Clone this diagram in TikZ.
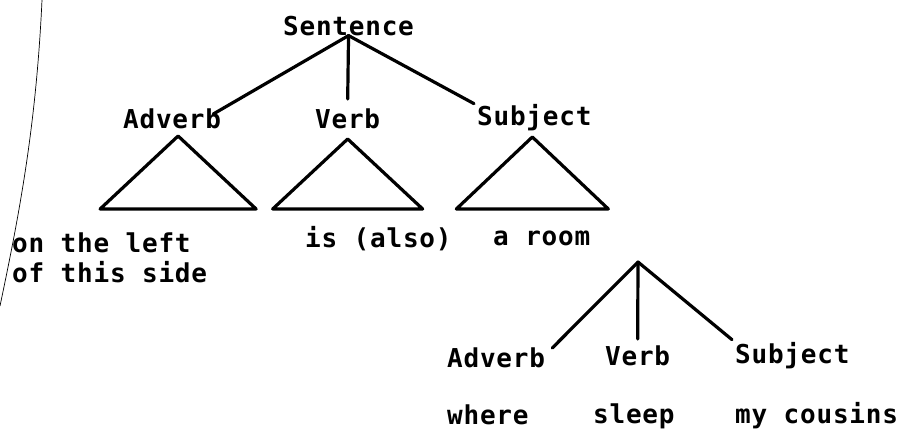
\documentclass[tikz,border=0pt]{standalone}
\usepackage{fontspec}
\setmonofont{DejaVu Sans Mono}[LetterSpace=3]
\usetikzlibrary{positioning}

\begin{document}
\begin{tikzpicture}[x=1pt,y=-1pt,
        word/.style={inner sep=0pt,anchor=base west,
                font=\ttfamily\bfseries\fontsize{26}{30}\selectfont},
        branch/.style={line width=3.2pt,line cap=round},
        subtree/.style={line width=3.2pt,line join=round}]
        \useasboundingbox (0,0) rectangle (897,432);

        \draw[line width=0.7pt] (42,0) .. controls (36,130) and (18,220) .. (0,306);

        \node[word] (sentence) at (283,35) {Sentence};
        \node[word] (adverb) at (123,128) {Adverb};
        \node[word] (verb) at (315,128) {Verb};
        \node[word] (subject) at (477,125) {Subject};

        \draw[branch] (sentence.south) -- ([xshift=-8pt,yshift=-6pt]adverb.north east);
        \draw[branch] (sentence.south) -- ([yshift=9pt]verb.north);
        \draw[branch] (sentence.south) -- ([xshift=-3pt]subject.north west);

        \draw[subtree] ([xshift=6pt,yshift=-8pt]adverb.base) -- ++(-78,73) -- ++(156,0) -- cycle;
        \draw[subtree] ([yshift=-11pt]verb.base) -- ++(-75,70) -- ++(150,0) -- cycle;
        \draw[subtree] ([xshift=-2pt,yshift=-12pt]subject.base) -- ++(-76,72) -- ++(152,0) -- cycle;

        \node[word] (adverb leaf) at (12,252) {on the left};
        \node[word] (adverb leaf2) at (12,282) {of this side};
        \node[word] (verb leaf) at (305,247) {is (also)};
        \node[word] (subject leaf) at (493,245) {a room};

        \coordinate (clause) at (638,262);
        \node[word] (clause adverb) at (447,367) {Adverb};
        \node[word] (clause verb) at (605,365) {Verb};
        \node[word] (clause subject) at (735,363) {Subject};

        \draw[branch] (clause) -- ([xshift=7pt,yshift=-1pt]clause adverb.north east);
        \draw[branch] (clause) -- ([yshift=6pt]clause verb.north);
        \draw[branch] (clause) -- ([xshift=-3pt,yshift=2pt]clause subject.north west);

        \node[word] (where) at (447,424) {where};
        \node[word] (sleep) at (593,423) {sleep};
        \node[word] (cousins) at (735,423) {my cousins};
\end{tikzpicture}
\end{document}
